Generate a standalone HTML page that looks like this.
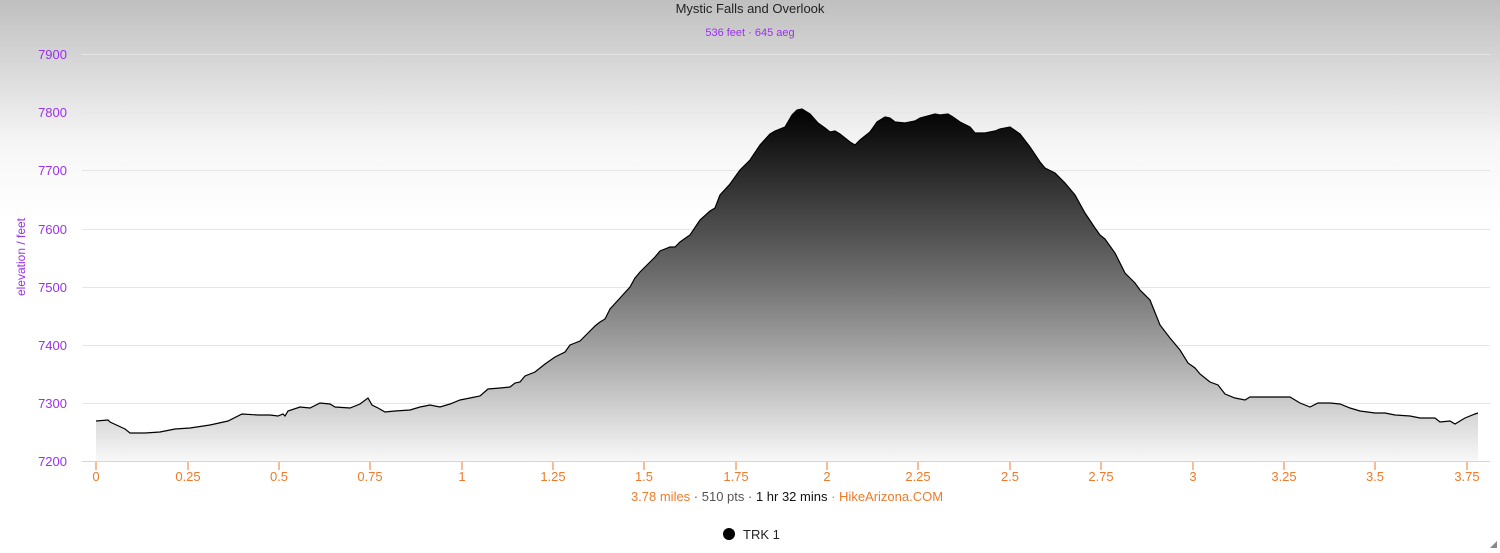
<!DOCTYPE html>
<html><head><meta charset="utf-8"><style>
html,body{margin:0;padding:0;width:1500px;height:553px;overflow:hidden;background:#fff;font-family:"Liberation Sans",sans-serif}
</style></head><body>
<svg width="1500" height="553" xmlns="http://www.w3.org/2000/svg" style="display:block">
<defs>
<linearGradient id="bg" x1="0" y1="0" x2="0" y2="1">
<stop offset="0" stop-color="#bfbfbf"/><stop offset="0.26" stop-color="#f6f6f6"/><stop offset="0.4" stop-color="#fff"/><stop offset="1" stop-color="#fff"/></linearGradient>
<linearGradient id="fill" gradientUnits="userSpaceOnUse" x1="0" y1="108" x2="0" y2="461">
<stop offset="0" stop-color="#000"/><stop offset="0.5" stop-color="#727272"/><stop offset="1" stop-color="#f8f8f8"/></linearGradient>
</defs>
<rect width="1500" height="553" fill="url(#bg)"/>
<g stroke="#e6e6e6" stroke-width="1">
<line x1="82" x2="1490" y1="54.5" y2="54.5"/><line x1="82" x2="1490" y1="112.5" y2="112.5"/>
<line x1="82" x2="1490" y1="170.5" y2="170.5"/><line x1="82" x2="1490" y1="229.5" y2="229.5"/>
<line x1="82" x2="1490" y1="287.5" y2="287.5"/><line x1="82" x2="1490" y1="345.5" y2="345.5"/>
<line x1="82" x2="1490" y1="403.5" y2="403.5"/>
</g>
<text x="750" y="13" text-anchor="middle" font-size="13" fill="#222">Mystic Falls and Overlook</text>
<text x="750" y="36" text-anchor="middle" font-size="11" fill="#9b30ef">536 feet · 645 aeg</text>
<g font-size="13" fill="#9b30ef" text-anchor="end">
<text x="67" y="59">7900</text><text x="67" y="117">7800</text><text x="67" y="175">7700</text>
<text x="67" y="234">7600</text><text x="67" y="292">7500</text><text x="67" y="350">7400</text>
<text x="67" y="408">7300</text><text x="67" y="466">7200</text>
</g>
<text transform="translate(25,257) rotate(-90)" text-anchor="middle" font-size="12" fill="#9b30ef">elevation / feet</text>
<path id="p" fill="url(#fill)" stroke="none" d="M96,421 L108,420 L110,422 L125,429 L130,433 L145,433 L160,432 L175,429 L190,428 L210,425 L228,421 L242,414 L258,415 L270,415 L278,416 L283,414 L285,416 L288,411 L300,407 L310,408 L320,403 L330,404 L335,407 L350,408 L360,404 L368,398 L372,405 L378,408 L385,412 L395,411 L410,410 L420,407 L430,405 L440,407 L450,404 L460,400 L470,398 L480,396 L488,389 L500,388 L510,387 L515,383 L520,382 L525,376 L535,372 L540,368 L545,364 L555,357 L565,352 L570,345 L575,343 L580,341 L588,333 L595,326 L600,322 L605,319 L610,309 L620,298 L630,287 L635,278 L640,272 L650,262 L655,257 L660,251 L670,247 L675,247 L680,242 L687,237 L690,235 L700,220 L710,211 L715,208 L720,195 L730,184 L740,170 L750,160 L760,145 L770,134 L775,131 L785,127 L792,115 L797,110 L802,109 L810,114 L818,123 L825,128 L830,132 L835,131 L840,134 L845,138 L850,142 L855,145 L860,140 L870,132 L877,122 L885,117 L890,118 L895,122 L905,123 L915,121 L920,118 L935,114 L940,115 L948,114 L953,117 L960,122 L970,127 L975,133 L985,133 L995,131 L1000,129 L1010,127 L1020,134 L1030,147 L1040,162 L1045,168 L1055,173 L1065,183 L1075,195 L1085,213 L1095,228 L1100,235 L1105,239 L1115,253 L1125,273 L1135,283 L1140,290 L1150,300 L1160,325 L1170,338 L1180,350 L1188,363 L1195,368 L1200,374 L1210,382 L1218,385 L1225,394 L1235,398 L1245,400 L1250,397 L1260,397 L1275,397 L1290,397 L1300,403 L1310,407 L1318,403 L1330,403 L1340,404 L1350,408 L1360,411 L1375,413 L1385,413 L1395,415 L1410,416 L1420,418 L1435,418 L1440,422 L1450,421 L1455,424 L1460,421 L1465,418 L1475,414 L1478,413 L1478,461 L96,461 Z"/>
<path fill="none" stroke="#000" stroke-width="1.2" d="M96,421 L108,420 L110,422 L125,429 L130,433 L145,433 L160,432 L175,429 L190,428 L210,425 L228,421 L242,414 L258,415 L270,415 L278,416 L283,414 L285,416 L288,411 L300,407 L310,408 L320,403 L330,404 L335,407 L350,408 L360,404 L368,398 L372,405 L378,408 L385,412 L395,411 L410,410 L420,407 L430,405 L440,407 L450,404 L460,400 L470,398 L480,396 L488,389 L500,388 L510,387 L515,383 L520,382 L525,376 L535,372 L540,368 L545,364 L555,357 L565,352 L570,345 L575,343 L580,341 L588,333 L595,326 L600,322 L605,319 L610,309 L620,298 L630,287 L635,278 L640,272 L650,262 L655,257 L660,251 L670,247 L675,247 L680,242 L687,237 L690,235 L700,220 L710,211 L715,208 L720,195 L730,184 L740,170 L750,160 L760,145 L770,134 L775,131 L785,127 L792,115 L797,110 L802,109 L810,114 L818,123 L825,128 L830,132 L835,131 L840,134 L845,138 L850,142 L855,145 L860,140 L870,132 L877,122 L885,117 L890,118 L895,122 L905,123 L915,121 L920,118 L935,114 L940,115 L948,114 L953,117 L960,122 L970,127 L975,133 L985,133 L995,131 L1000,129 L1010,127 L1020,134 L1030,147 L1040,162 L1045,168 L1055,173 L1065,183 L1075,195 L1085,213 L1095,228 L1100,235 L1105,239 L1115,253 L1125,273 L1135,283 L1140,290 L1150,300 L1160,325 L1170,338 L1180,350 L1188,363 L1195,368 L1200,374 L1210,382 L1218,385 L1225,394 L1235,398 L1245,400 L1250,397 L1260,397 L1275,397 L1290,397 L1300,403 L1310,407 L1318,403 L1330,403 L1340,404 L1350,408 L1360,411 L1375,413 L1385,413 L1395,415 L1410,416 L1420,418 L1435,418 L1440,422 L1450,421 L1455,424 L1460,421 L1465,418 L1475,414 L1478,413"/>
<line x1="82" x2="1490" y1="461.5" y2="461.5" stroke="#ccd6eb"/>
<g stroke="#f07a2a"><line x1="96" x2="96" y1="462" y2="470"/><line x1="188" x2="188" y1="462" y2="470"/><line x1="279" x2="279" y1="462" y2="470"/><line x1="370" x2="370" y1="462" y2="470"/><line x1="462" x2="462" y1="462" y2="470"/><line x1="553" x2="553" y1="462" y2="470"/><line x1="644" x2="644" y1="462" y2="470"/><line x1="736" x2="736" y1="462" y2="470"/><line x1="827" x2="827" y1="462" y2="470"/><line x1="918" x2="918" y1="462" y2="470"/><line x1="1010" x2="1010" y1="462" y2="470"/><line x1="1101" x2="1101" y1="462" y2="470"/><line x1="1193" x2="1193" y1="462" y2="470"/><line x1="1284" x2="1284" y1="462" y2="470"/><line x1="1375" x2="1375" y1="462" y2="470"/><line x1="1467" x2="1467" y1="462" y2="470"/></g>
<g font-size="13" fill="#f07a2a" text-anchor="middle">
<text x="96" y="481">0</text><text x="188" y="481">0.25</text><text x="279" y="481">0.5</text><text x="370" y="481">0.75</text><text x="462" y="481">1</text><text x="553" y="481">1.25</text><text x="644" y="481">1.5</text><text x="736" y="481">1.75</text><text x="827" y="481">2</text><text x="918" y="481">2.25</text><text x="1010" y="481">2.5</text><text x="1101" y="481">2.75</text><text x="1193" y="481">3</text><text x="1284" y="481">3.25</text><text x="1375" y="481">3.5</text><text x="1467" y="481">3.75</text>
</g>
<text x="787" y="501" text-anchor="middle" font-size="13"><tspan fill="#f07a2a">3.78 miles</tspan><tspan fill="#555"> · 510 pts · </tspan><tspan fill="#111">1 hr 32 mins</tspan><tspan fill="#f07a2a"> · HikeArizona.COM</tspan></text>
<circle cx="729" cy="534" r="6" fill="#000"/>
<text x="743" y="539" font-size="13" fill="#222">TRK 1</text>
<path d="M1497,541 L1497,548 L1490,548 Z" fill="#888"/>
</svg>
</body></html>
